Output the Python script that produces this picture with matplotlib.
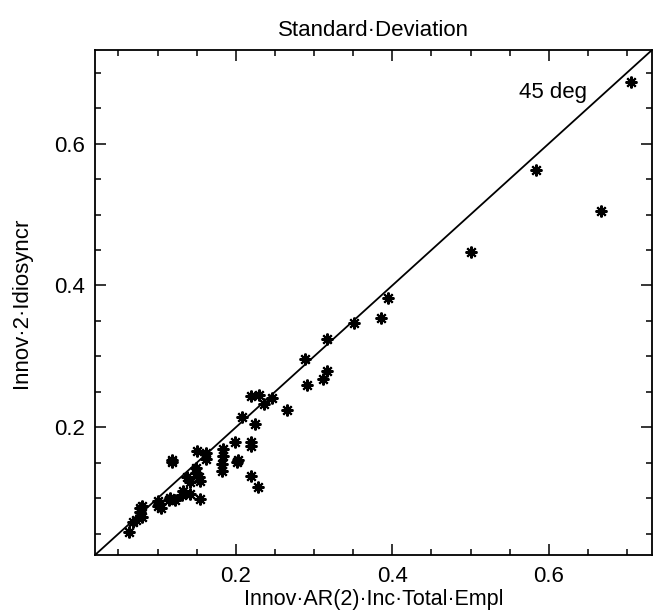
import matplotlib
matplotlib.use("Agg")
import matplotlib.pyplot as plt
from matplotlib.ticker import MultipleLocator

plt.rcParams["font.family"] = ["Liberation Sans", "DejaVu Sans"]

# values
x_ar2 = [0.705, 0.584, 0.667, 0.500, 0.395, 0.385, 0.351, 0.317, 0.289, 0.317,
         0.311, 0.291, 0.266, 0.246, 0.236, 0.230, 0.220, 0.225, 0.208, 0.199,
         0.219, 0.219, 0.184, 0.184, 0.182, 0.182, 0.203, 0.201, 0.162, 0.162,
         0.150, 0.119, 0.119, 0.149, 0.149, 0.153, 0.154, 0.137, 0.142, 0.219,
         0.228, 0.133, 0.131, 0.142, 0.154, 0.122, 0.116, 0.114, 0.101, 0.102,
         0.105, 0.100, 0.080, 0.078, 0.080, 0.073, 0.069, 0.064, 0.078]
y_idio = [0.687, 0.563, 0.505, 0.447, 0.383, 0.354, 0.347, 0.324, 0.297, 0.279,
          0.268, 0.259, 0.224, 0.241, 0.233, 0.245, 0.244, 0.205, 0.215, 0.179,
          0.180, 0.173, 0.169, 0.160, 0.149, 0.139, 0.154, 0.151, 0.164, 0.156,
          0.166, 0.154, 0.151, 0.143, 0.136, 0.130, 0.125, 0.130, 0.123, 0.131,
          0.116, 0.110, 0.105, 0.106, 0.099, 0.098, 0.100, 0.098, 0.096, 0.092,
          0.086, 0.089, 0.089, 0.081, 0.074, 0.070, 0.066, 0.052, 0.086]

lo, hi = 0.02, 0.732
major_ticks = [0.2, 0.4, 0.6]
tick_labels = ["0.2", "0.4", "0.6"]
fs = 16

fig = plt.figure(figsize=(6.53, 6.13), dpi=100)
ax = fig.add_axes([95 / 653, 58 / 613, 557 / 653, 505 / 613])

ax.plot([lo, hi], [lo, hi], color="black", lw=1.3)
ax.plot(x_ar2, y_idio, ls="none", marker=(8, 2, 0), ms=8.5, mew=1.5,
        color="black")
ax.text(0.605, 0.672, "45 deg", ha="center", va="center", fontsize=fs)

ax.set_xlim(lo, hi)
ax.set_ylim(lo, hi)
ax.set_xticks(major_ticks, tick_labels)
ax.set_yticks(major_ticks, tick_labels)
ax.xaxis.set_minor_locator(MultipleLocator(0.05))
ax.yaxis.set_minor_locator(MultipleLocator(0.05))
ax.tick_params(which="both", direction="in", top=True, right=True,
               labelsize=fs, width=1.1)
ax.tick_params(which="major", length=8)
ax.tick_params(which="minor", length=4)
ax.tick_params(axis="x", pad=8)
ax.tick_params(axis="y", pad=7)
for s in ax.spines.values():
    s.set_linewidth(1.3)

ax.set_title("Standard\u00b7Deviation", fontsize=fs, pad=10)
ax.set_xlabel("Innov\u00b7AR(2)\u00b7Inc\u00b7Total\u00b7Empl", fontsize=15.5,
              labelpad=1)
ax.set_ylabel("Innov\u00b72\u00b7Idiosyncr", fontsize=fs, labelpad=16)

fig.savefig("out.png", dpi=100)
